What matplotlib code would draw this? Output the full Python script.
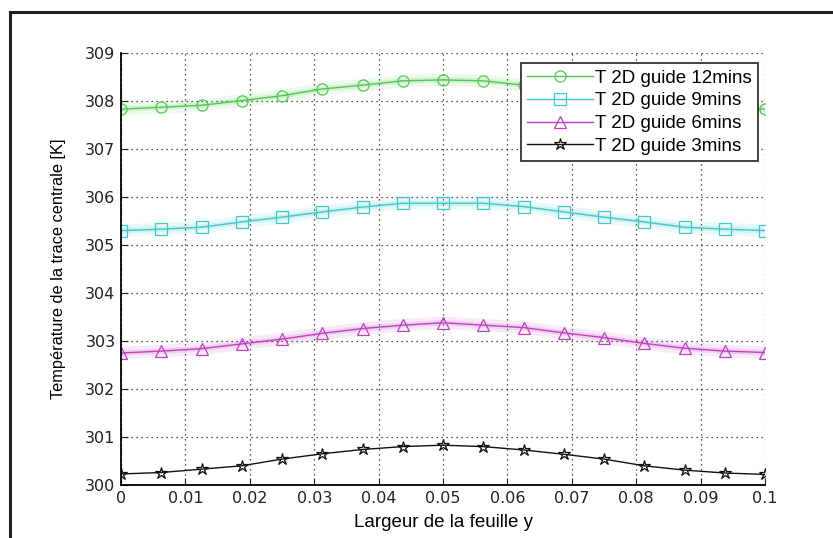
import matplotlib
matplotlib.use("Agg")
import matplotlib.pyplot as plt
from matplotlib.patches import Rectangle

plt.rcParams['font.family'] = ['Liberation Sans', 'DejaVu Sans']

y_pos = [0, 0.00625, 0.0125, 0.01875, 0.025, 0.03125, 0.0375, 0.04375, 0.05,
         0.05625, 0.0625, 0.06875, 0.075, 0.08125, 0.0875, 0.09375, 0.1]
t12 = [307.83, 307.87, 307.91, 308.01, 308.11, 308.25, 308.33, 308.42, 308.44,
       308.42, 308.33, 308.25, 308.11, 308.01, 307.91, 307.87, 307.83]
t9 = [305.30, 305.33, 305.37, 305.48, 305.58, 305.69, 305.79, 305.87, 305.87,
      305.87, 305.80, 305.69, 305.58, 305.48, 305.37, 305.33, 305.30]
t6 = [302.75, 302.79, 302.84, 302.94, 303.04, 303.16, 303.26, 303.33, 303.38,
      303.33, 303.28, 303.17, 303.07, 302.95, 302.85, 302.79, 302.76]
t3 = [300.23, 300.26, 300.33, 300.40, 300.54, 300.65, 300.74, 300.80, 300.83,
      300.80, 300.73, 300.64, 300.54, 300.40, 300.31, 300.25, 300.22]
labels = ['T 2D guide 12mins', 'T 2D guide 9mins', 'T 2D guide 6mins', 'T 2D guide 3mins']
xticks = [0, 0.01, 0.02, 0.03, 0.04, 0.05, 0.06, 0.07, 0.08, 0.09, 0.1]
xticklabels = ['0', '0.01', '0.02', '0.03', '0.04', '0.05', '0.06', '0.07', '0.08', '0.09', '0.1']
yticks = [300, 301, 302, 303, 304, 305, 306, 307, 308, 309]

colors = ['#50c850', '#40c8c8', '#c040c0', '#111111']
markers = ['o', 's', '^', '*']
series = [t12, t9, t6, t3]

fig = plt.figure(figsize=(8.33, 5.38), dpi=100)
fig.patches.append(Rectangle((10/833, -0.05), 1.0, 1 - 12/538 + 0.05,
                             transform=fig.transFigure, fill=False,
                             edgecolor='#222222', linewidth=2.2))
ax = fig.add_axes([121/833, 1 - 485/538, (765 - 121)/833, (485 - 53)/538])

for s, c, m, lab in zip(series, colors, markers, labels):
    if c != '#111111':
        ax.plot(y_pos, s, color=c, linewidth=9, alpha=0.10, solid_capstyle='round')
        ax.plot(y_pos, s, color=c, linewidth=4, alpha=0.15, solid_capstyle='round')
    ax.plot(y_pos, s, color=c, linewidth=1.0, marker=m, markersize=9 if m == '*' else 8,
            markerfacecolor='none', markeredgecolor=c, markeredgewidth=0.9, label=lab)

ax.set_xlim(0, 0.1)
ax.set_ylim(300, 309)
ax.set_xticks(xticks)
ax.set_xticklabels(xticklabels)
ax.set_yticks(yticks)
ax.tick_params(direction='in', length=5, labelsize=11.5, colors='#222222', pad=4)
for t in ax.get_xticklabels() + ax.get_yticklabels():
    t.set_fontfamily('DejaVu Sans')
ax.grid(True, linestyle=(0, (1, 3)), color='#222222', linewidth=0.9)
for side in ['top', 'right']:
    ax.spines[side].set_visible(False)
for side in ['left', 'bottom']:
    ax.spines[side].set_linewidth(1.3)
ax.set_xlabel('Largeur de la feuille y', fontsize=13.5, labelpad=6)
ax.set_ylabel('Température de la trace centrale [K]', fontsize=11.8, labelpad=14)

leg = ax.legend(loc='upper right', bbox_to_anchor=(0.989, 0.977), fontsize=13.5,
                frameon=True, fancybox=False, edgecolor='#222222', framealpha=1,
                handlelength=3.5, handletextpad=0.1, borderpad=0.35, labelspacing=0.3,
                borderaxespad=0)
leg.get_frame().set_linewidth(1.2)

fig.savefig('out.png', dpi=100)
